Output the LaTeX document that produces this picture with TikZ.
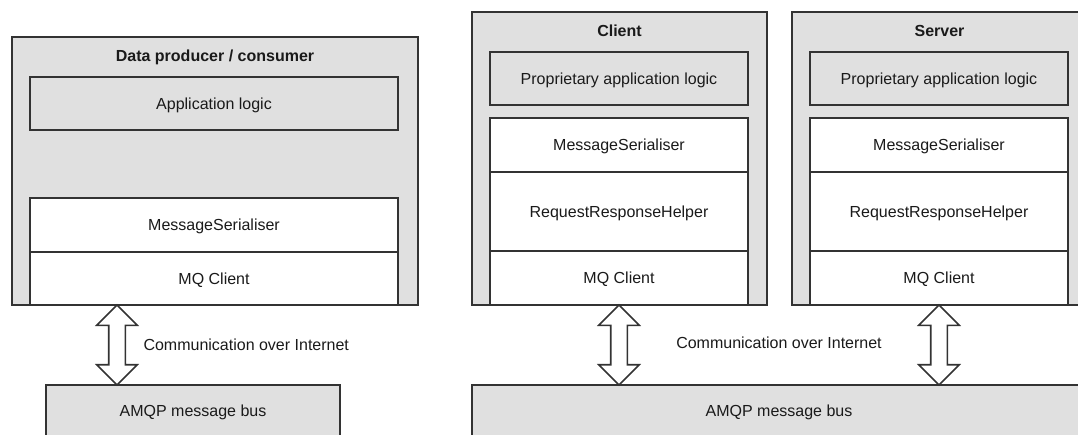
\documentclass[tikz,border=0pt]{standalone}
\usepackage{fontspec}
\setmainfont{Liberation Sans}
\usepackage{tikz}
\usetikzlibrary{shapes.arrows,positioning}
\definecolor{boxgray}{HTML}{E0E0E0}
\definecolor{edgegray}{HTML}{333333}
\definecolor{txt}{HTML}{1A1A1A}

\begin{document}
\begin{tikzpicture}[x=1pt,y=-1pt,
  every node/.style={font=\fontsize{16}{19}\selectfont,text=txt,text depth=0pt},
  outer/.style={draw=edgegray,fill=boxgray,line width=1.8pt,inner sep=0pt},
  layer/.style={draw=edgegray,fill=white,line width=1.6pt,inner sep=0pt},
  greylayer/.style={layer,fill=boxgray},
  head/.style={font=\fontsize{16}{19}\selectfont\bfseries},
  biarrow/.style={double arrow,draw=edgegray,fill=white,line width=1.6pt,rotate=90,
    minimum height=80pt,inner sep=7.5pt,double arrow head extend=12pt}]
\useasboundingbox (0,0) rectangle (1078,434);
\clip (0,0) rectangle (1078,434);

% left: one producer / consumer
\node[outer,minimum width=406pt,minimum height=268pt] (dpc) at (215,171) {};
\node[head] (dpctitle) at (215,56) {Data producer / consumer};
\node[greylayer,minimum width=368pt,minimum height=53pt] (dpcapp) at (214,103.5) {Application logic};
\node[layer,minimum width=368pt,minimum height=54pt] (dpcser) at (214,225) {MessageSerialiser};
\node[layer,minimum width=368pt,minimum height=53pt] (dpcmq) at (214,278.5) {MQ Client};
\node[greylayer,minimum width=294pt,minimum height=52pt] (lbus) at (193,411) {AMQP message bus};
\node[biarrow] (larr) at (117,345) {};
\node[right] (lcomm) at (140,345) {Communication over Internet};

% right: client and server
\node[outer,minimum width=295pt,minimum height=293pt] (cl) at (619.5,158.5) {};
\node[head] (cltitle) at (619.5,31) {Client};
\node[greylayer,minimum width=258pt,minimum height=53pt] (clapp) at (619,78.5) {Proprietary application logic};
\node[layer,minimum width=258pt,minimum height=54pt] (clser) at (619,145) {MessageSerialiser};
\node[layer,minimum width=258pt,minimum height=79pt] (clrrh) at (619,211.5) {RequestResponseHelper};
\node[layer,minimum width=258pt,minimum height=54pt] (clmq) at (619,278) {MQ Client};

\node[outer,minimum width=295pt,minimum height=293pt] (sv) at (939.5,158.5) {};
\node[head] (svtitle) at (939.5,31) {Server};
\node[greylayer,minimum width=258pt,minimum height=53pt] (svapp) at (939,78.5) {Proprietary application logic};
\node[layer,minimum width=258pt,minimum height=54pt] (svser) at (939,145) {MessageSerialiser};
\node[layer,minimum width=258pt,minimum height=79pt] (svrrh) at (939,211.5) {RequestResponseHelper};
\node[layer,minimum width=258pt,minimum height=54pt] (svmq) at (939,278) {MQ Client};

\node[greylayer,minimum width=614pt,minimum height=52pt] (rbus) at (779,411) {AMQP message bus};
\node[biarrow] (carr) at (619,345) {};
\node[biarrow] (sarr) at (939,345) {};
\node (rcomm) at (779,343) {Communication over Internet};

\end{tikzpicture}
\end{document}
